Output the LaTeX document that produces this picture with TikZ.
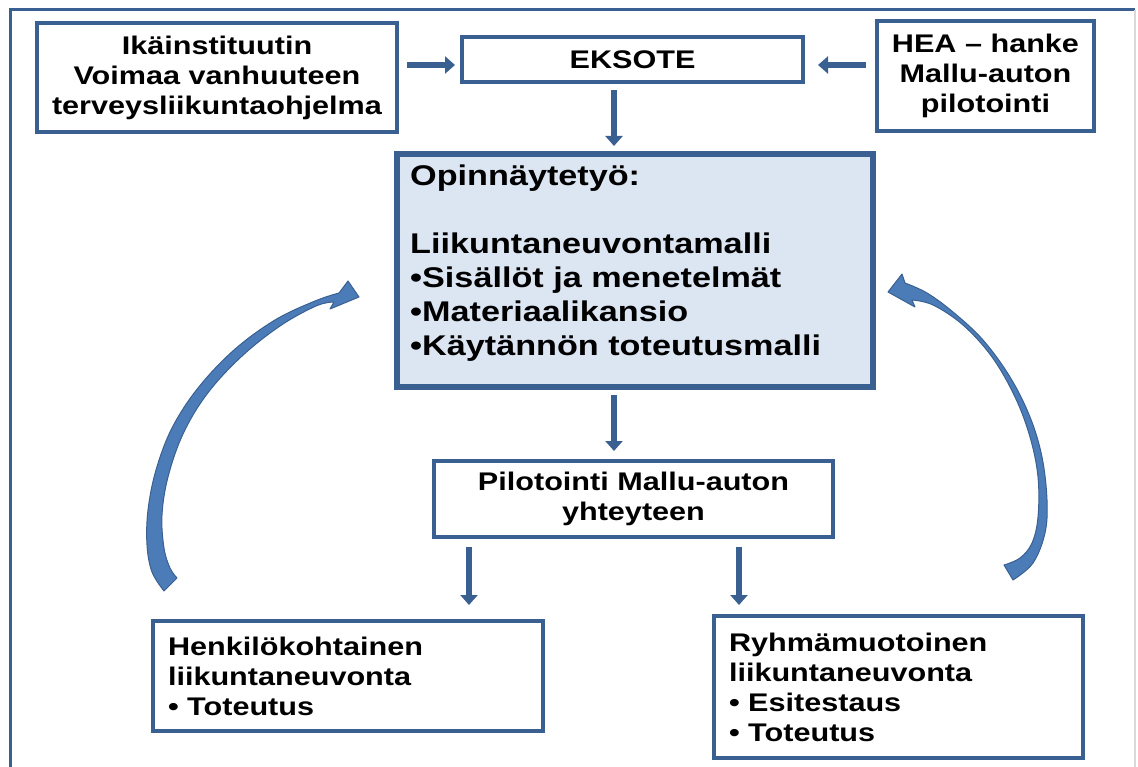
\documentclass[tikz,border=0pt]{standalone}
\usepackage{fontspec}
\setmainfont{Liberation Sans}[FakeStretch=1.2]
\usetikzlibrary{arrows.meta}
\definecolor{bord}{RGB}{58,96,145}
\definecolor{opfill}{RGB}{220,230,242}
\definecolor{arrfill}{RGB}{76,124,183}
\definecolor{framegray}{RGB}{217,217,217}
\begin{document}
\begin{tikzpicture}[x=1pt,y=-1pt,
  box/.style={draw=bord, line width=4pt, fill=white, rectangle, inner sep=0pt,
    font=\fontsize{25.5}{30}\selectfont\bfseries, align=center},
  lbox/.style={box, align=left, inner xsep=15pt},
  arr/.style={draw=bord, line width=6pt, -{Triangle[length=10pt,width=17pt]}},
  carr/.style={fill=arrfill, draw=bord, line width=1pt, line join=round}
]
\useasboundingbox (0,0) rectangle (1138,767);
% frame
\draw[bord, line width=3pt] (10,767) -- (10,10) -- (1135,10);
\draw[framegray, line width=2pt] (1135,10) -- (1135,767);

% boxes
\node[box, minimum width=360pt, minimum height=109pt] (ika) at (217,77.5)
  {Ikäinstituutin\\Voimaa vanhuuteen\\terveysliikuntaohjelma};
\node[box, minimum width=341pt, minimum height=45pt] (eksote) at (632.5,59.5) {EKSOTE};
\node[box, minimum width=217pt, minimum height=110pt] (hea) at (985.5,76)
  {HEA – hanke\\Mallu-auton\\pilotointi};
\node[box, line width=6pt, fill=opfill, minimum width=476pt, minimum height=233pt] (opin) at (635,270.5) {};
\node[anchor=north west, inner sep=0pt, align=left, font=\fontsize{28.5}{34}\selectfont\bfseries]
  (opintxt) at ([xshift=16pt,yshift=-14pt]opin.north west)
  {Opinnäytetyö:\\[34pt]Liikuntaneuvontamalli\\•Sisällöt ja menetelmät\\•Materiaalikansio\\•Käytännön toteutusmalli};
\node[box, minimum width=399pt, minimum height=76pt] (pilot) at (633.5,499)
  {Pilotointi Mallu-auton\\yhteyteen};
\node[lbox, text width=360pt, minimum height=110pt] (henk) at (348,676)
  {Henkilökohtainen\\liikuntaneuvonta\\• Toteutus};
\node[lbox, text width=339pt, minimum height=142pt] (ryhma) at (898.5,687)
  {Ryhmämuotoinen\\liikuntaneuvonta\\• Esitestaus\\• Toteutus};

% helper coordinates
\coordinate (ay) at (0,65);
\coordinate (vx) at (614,0);
\coordinate (hx) at (469,0);
\coordinate (rx) at (739,0);

% straight arrows
\draw[arr, shorten <=8pt, shorten >=5pt] (ika.east |- ay) -- (eksote.west |- ay);
\draw[arr, shorten <=9pt, shorten >=13pt] (hea.west |- ay) -- (eksote.east |- ay);
\draw[arr, shorten <=6pt, shorten >=5pt] (eksote.south -| vx) -- (opin.north -| vx);
\draw[arr, shorten <=5pt, shorten >=8pt] (opin.south -| vx) -- (pilot.north -| vx);
\draw[arr, shorten <=8pt, shorten >=14pt] (pilot.south -| hx) -- (henk.north -| hx);
\draw[arr, shorten <=8pt, shorten >=9pt] (pilot.south -| rx) -- (ryhma.north -| rx);

% curved arrows
\filldraw[carr] plot[smooth, tension=0.6] coordinates {(164,591) (152,572) (147,545) (148,510) (156,470) (172,428) (198,388) (234,350) (275,320) (315,301) (339,293)}
  -- (348,281) -- (359,297) -- (330,309) -- (334,302)
  -- plot[smooth, tension=0.6] coordinates {(334,302) (316,306) (280,326) (241,357) (207,394) (183,434) (168,477) (162,515) (164,548) (170,568) (177,578)} -- cycle;
\filldraw[carr] plot[smooth, tension=0.6] coordinates {(1013,580) (1033,563) (1045,533) (1047,500) (1042,457) (1030,417) (1010,377) (983,340) (953,312) (927,293) (905,283)}
  -- (902,274) -- (888,292) -- (915,307) -- (912,300)
  -- plot[smooth, tension=0.6] coordinates {(912,300) (933,305) (963,325) (992,357) (1015,397) (1030,437) (1038,477) (1038,517) (1032,543) (1020,558) (1004,565)} -- cycle;
\end{tikzpicture}
\end{document}
